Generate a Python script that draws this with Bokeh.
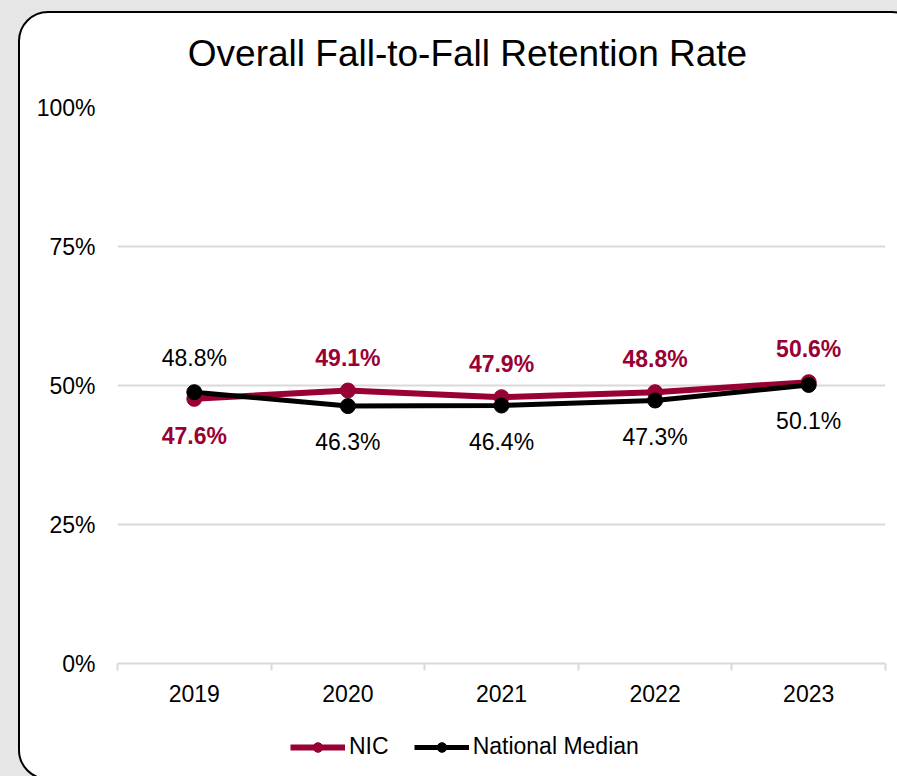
from bokeh.plotting import figure
from bokeh.layouts import column
from bokeh.models import (ColumnDataSource, FixedTicker, NumeralTickFormatter, Legend,
                          LegendItem, Label, GlobalInlineStyleSheet, InlineStyleSheet)
from bokeh.core.properties import value
from bokeh.embed import file_html
from bokeh.resources import INLINE

# ---------------- data ----------------
years = ["2019", "2020", "2021", "2022", "2023"]
nic = [0.476, 0.491, 0.479, 0.488, 0.506]
national = [0.488, 0.463, 0.464, 0.473, 0.501]
y_ticks = [0.0, 0.25, 0.50, 0.75, 1.0]
title_text = "Overall Fall-to-Fall Retention Rate"
series_names = ["NIC", "National Median"]

NIC_COLOR = "#990033"
NAT_COLOR = "#000000"
GRID = "#d9d9d9"
BG = "#e6e6e6"
FONT = "Liberation Sans"

xs = list(range(len(years)))
x_range = (xs[0] - 0.5, xs[-1] + 0.5)

W, HT, H, HL = 900, 80, 620, 65


def strip(height, y_range):
    f = figure(width=W, height=height, output_backend="svg", toolbar_location=None,
               x_range=x_range, y_range=y_range, x_axis_type=None, y_axis_type=None,
               min_border=0, min_border_left=0, min_border_right=0,
               min_border_top=0, min_border_bottom=0)
    f.border_fill_color = None
    f.background_fill_color = None
    f.outline_line_color = None
    f.grid.visible = False
    return f


# ---- title strip ----
pt = strip(HT, (0, 1))
pt.add_layout(Label(x=(xs[0] + xs[-1]) / 2, y=0.5, x_offset=-34, text=title_text,
                    text_font=FONT, text_font_size="37px", text_color="black",
                    text_align="center", text_baseline="middle"))

# ---- main chart ----
p = figure(width=W, height=H, output_backend="svg", toolbar_location=None,
           x_range=x_range, y_range=(0, 1),
           min_border_left=97, min_border_right=35, min_border_top=14, min_border_bottom=50)
p.border_fill_color = None
p.background_fill_color = None
p.outline_line_color = None

xa = p.xaxis[0]
xa.ticker = FixedTicker(ticks=xs, minor_ticks=[x - 0.5 for x in xs] + [xs[-1] + 0.5])
xa.major_label_overrides = {x: y for x, y in zip(xs, years)}
xa.axis_line_color = GRID
xa.axis_line_width = 2
xa.major_tick_line_color = None
xa.major_tick_out = 7
xa.major_tick_in = 0
xa.minor_tick_line_color = GRID
xa.minor_tick_line_width = 2
xa.minor_tick_out = 7
xa.minor_tick_in = 0
xa.major_label_standoff = 14
xa.major_label_text_font = FONT
xa.major_label_text_font_size = "23px"
xa.major_label_text_color = "black"

ya = p.yaxis[0]
ya.ticker = FixedTicker(ticks=y_ticks)
ya.formatter = NumeralTickFormatter(format="0%")
ya.axis_line_color = None
ya.major_tick_line_color = None
ya.minor_tick_line_color = None
ya.major_tick_out = 0
ya.major_label_standoff = 22
ya.major_label_text_font = FONT
ya.major_label_text_font_size = "23px"
ya.major_label_text_color = "black"

p.xgrid.grid_line_color = None
p.ygrid.grid_line_color = GRID
p.ygrid.grid_line_width = 2

src = ColumnDataSource(dict(
    x=xs, nic=nic, nat=national,
    nic_lbl=[f"{v*100:.1f}%" for v in nic],
    nat_lbl=[f"{v*100:.1f}%" for v in national],
    nic_off=[-33 if a >= b else 37 for a, b in zip(nic, national)],
    nat_off=[-34 if b > a else 36 for a, b in zip(nic, national)],
))

p.line("x", "nic", source=src, line_color=NIC_COLOR, line_width=6)
p.scatter("x", "nic", source=src, size=15, fill_color=NIC_COLOR, line_color=NIC_COLOR)
p.line("x", "nat", source=src, line_color=NAT_COLOR, line_width=5)
p.scatter("x", "nat", source=src, size=15, fill_color=NAT_COLOR, line_color=NAT_COLOR)

p.text("x", "nic", text="nic_lbl", source=src, y_offset="nic_off",
       text_font=value(FONT), text_font_size="23px", text_font_style="bold",
       text_color=NIC_COLOR, text_align="center", text_baseline="middle")
p.text("x", "nat", text="nat_lbl", source=src, y_offset="nat_off",
       text_font=value(FONT), text_font_size="23px",
       text_color=NAT_COLOR, text_align="center", text_baseline="middle")

# ---- legend strip (its series lie outside its view; only the legend shows) ----
pl = strip(HL, (-3, -2))
el1 = pl.line("x", "nic", source=src, line_color=NIC_COLOR, line_width=6)
ec1 = pl.scatter("x", "nic", source=src, size=15, fill_color=NIC_COLOR, line_color=NIC_COLOR)
el2 = pl.line("x", "nat", source=src, line_color=NAT_COLOR, line_width=5)
ec2 = pl.scatter("x", "nat", source=src, size=15, fill_color=NAT_COLOR, line_color=NAT_COLOR)
legend = Legend(items=[LegendItem(label=series_names[0], renderers=[el1, ec1]),
                       LegendItem(label=series_names[1], renderers=[el2, ec2])],
                location=(173, 18), orientation="horizontal",
                label_text_font=FONT, label_text_font_size="23px", label_text_color="black",
                glyph_width=55, glyph_height=24, label_height=24,
                label_standoff=4, spacing=25, padding=0, margin=0,
                border_line_color=None, background_fill_alpha=0)
pl.add_layout(legend, "center")

layout = column(pt, p, pl, spacing=0)
layout.margin = (11, 0, 0, 18)
layout.stylesheets = [
    GlobalInlineStyleSheet(css=f"html {{background-color:{BG}; overflow:hidden;}} "
                               f"body {{background-color:{BG}; overflow:hidden; width:1000px;}}"),
    InlineStyleSheet(css=":host { border: 2px solid black; border-radius: 30px; "
                         "background-color: white; overflow: hidden; "
                         f"min-width: {W}px; flex-shrink: 0; }}"),
]

open("out.html", "w").write(file_html(layout, INLINE))
